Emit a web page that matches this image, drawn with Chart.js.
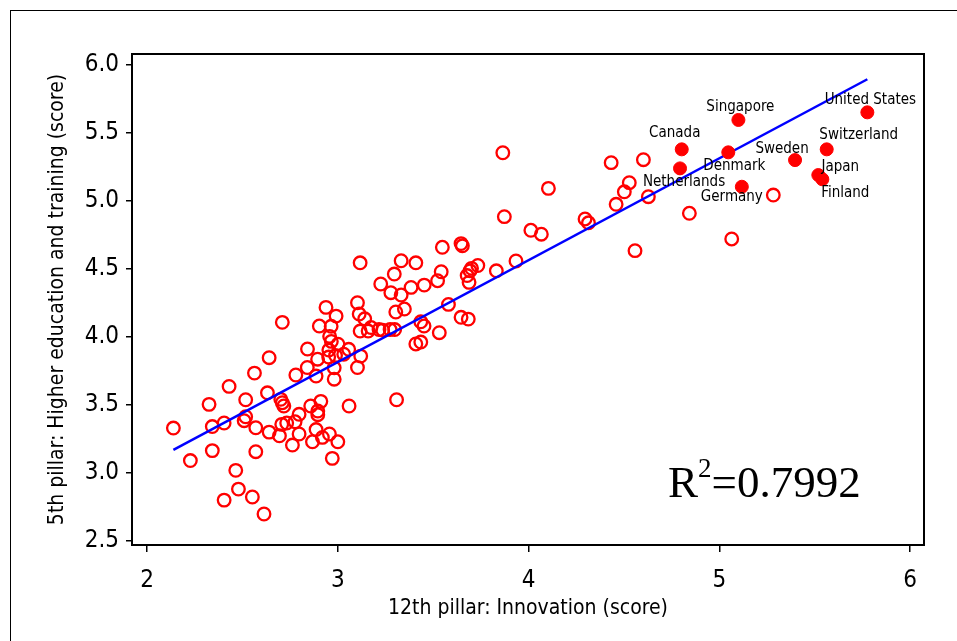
<!DOCTYPE html>
<html lang="en">
<head>
  <meta charset="UTF-8">
  <title>Innovation vs higher education and training</title>
  <style>
    html, body { margin: 0; padding: 0; background: #fff; }
  </style>
</head>
<body>
  <canvas id="canvas" width="957" height="641"></canvas>
  <script src="https://cdn.jsdelivr.net/npm/chart.js"></script>
  <script>
    // all other countries (open circles)
    const otherX = [2.138, 2.227, 2.342, 2.342, 2.325, 2.404, 2.404, 2.430, 2.465, 2.479,
      2.552, 2.613, 2.517, 2.517, 2.509, 2.570, 2.570, 2.563, 2.640, 2.631,
      2.640, 2.701, 2.709, 2.717, 2.694, 2.706, 2.732, 2.776, 2.797, 2.797,
      2.762, 2.709, 2.780, 2.840, 2.841, 2.858, 2.867, 2.886, 2.886, 2.894,
      2.895, 2.895, 2.911, 2.919, 2.956, 2.971, 3.000, 2.981, 2.981, 3.059,
      2.903, 2.938, 2.991, 2.965, 2.957, 2.966, 3.001, 2.953, 2.952, 2.988,
      3.031, 3.057, 3.120, 3.103, 3.117, 3.103, 3.112, 3.141, 3.117, 3.159,
      3.174, 3.216, 3.235, 3.274, 3.298, 3.225, 3.278, 3.296, 3.304, 3.308,
      3.332, 3.332, 3.349, 3.384, 3.409, 3.409, 3.435, 3.435, 3.452, 3.453,
      3.523, 3.542, 3.532, 3.548, 3.580, 3.646, 3.653, 3.646, 3.684, 3.678,
      3.693, 3.701, 3.734, 3.688, 3.831, 3.873, 3.865, 3.934, 4.012, 4.067,
      4.104, 4.296, 4.314, 4.433, 4.459, 4.502, 4.528, 4.558, 4.602, 4.628,
      4.843, 5.065, 5.283];
    const otherY = [3.331, 3.092, 3.165, 3.342, 3.505, 3.368, 2.801, 3.637, 3.020, 2.882,
      2.824, 2.699, 3.539, 3.414, 3.385, 3.333, 3.157, 3.735, 3.848, 3.590,
      3.301, 3.542, 3.517, 3.493, 3.274, 3.358, 3.368, 3.377, 3.432, 3.287,
      3.206, 4.108, 3.721, 3.776, 3.912, 3.493, 3.230, 3.713, 3.320, 3.837,
      3.456, 3.429, 3.527, 3.262, 3.287, 3.108, 3.230, 3.774, 3.690, 3.493,
      4.081, 4.218, 4.154, 4.079, 4.005, 3.968, 3.947, 3.904, 3.853, 3.864,
      3.874, 3.910, 3.860, 3.776, 4.546, 4.252, 4.169, 4.134, 4.044, 4.044,
      4.070, 4.055, 4.051, 4.055, 4.055, 4.390, 4.326, 4.463, 4.184, 3.539,
      4.561, 4.309, 4.206, 4.365, 4.546, 3.949, 3.963, 4.112, 4.081, 4.382,
      4.414, 4.480, 4.032, 4.660, 4.240, 4.687, 4.671, 4.145, 4.132, 4.452,
      4.487, 4.505, 4.526, 4.402, 4.487, 4.885, 5.355, 4.559, 4.785, 4.756,
      5.093, 4.868, 4.840, 5.282, 4.976, 5.068, 5.135, 4.635, 5.304, 5.032,
      4.910, 4.721, 5.044];

    // highlighted countries (filled dots)
    const countries = ['United States', 'Singapore', 'Canada', 'Switzerland', 'Denmark',
      'Sweden', 'Netherlands', 'Japan', 'Finland', 'Germany'];
    const countryX = [5.776, 5.100, 4.803, 5.563, 5.047, 5.397, 4.794, 5.519, 5.540, 5.118];
    const countryY = [5.652, 5.596, 5.380, 5.380, 5.358, 5.301, 5.240, 5.191, 5.160, 5.105];

    const xTicks = [2, 3, 4, 5, 6];
    const yTicks = [2.5, 3.0, 3.5, 4.0, 4.5, 5.0, 5.5, 6.0];

    // fitted line y = a + b*x
    const fitIntercept = 1.569;
    const fitSlope = 0.749;
    const rSquared = '0.7992';

    // where each country name sits, relative to its dot (px)
    const labelOffset = {
      'United States': [3, -12], 'Singapore': [2, -13], 'Canada': [-7, -16],
      'Switzerland': [32, -14], 'Denmark': [6, 14], 'Sweden': [-13, -11],
      'Netherlands': [4, 14], 'Japan': [22, -8], 'Finland': [23, 14], 'Germany': [-10, 10]
    };

    const SANS = '"DejaVu Sans Condensed", "DejaVu Sans", sans-serif';

    const allX = otherX.concat(countryX);
    const xLo = Math.min(...allX), xHi = Math.max(...allX);
    const fitLine = [
      { x: xLo, y: fitIntercept + fitSlope * xLo },
      { x: xHi, y: fitIntercept + fitSlope * xHi }
    ];

    const decorations = {
      id: 'decorations',
      beforeDraw(chart) {
        const ctx = chart.ctx;
        ctx.save();
        ctx.fillStyle = '#fff';
        ctx.fillRect(0, 0, chart.width, chart.height);
        ctx.strokeStyle = '#000';
        ctx.lineWidth = 1;
        ctx.strokeRect(10.5, 10.5, chart.width + 10, chart.height + 10);
        ctx.restore();
      },
      afterDatasetsDraw(chart) {
        const { ctx, chartArea: a, scales: { x, y } } = chart;
        ctx.save();
        ctx.fillStyle = '#000';
        ctx.font = '15px ' + SANS;
        ctx.textAlign = 'center';
        ctx.textBaseline = 'middle';
        countries.forEach((c, i) => {
          const [dx, dy] = labelOffset[c];
          ctx.fillText(c, x.getPixelForValue(countryX[i]) + dx, y.getPixelForValue(countryY[i]) + dy);
        });

        // R^2 note
        ctx.textAlign = 'left';
        ctx.textBaseline = 'alphabetic';
        let tx = a.left + 536;
        const base = a.bottom - 48;
        ctx.font = '45px "Liberation Serif", "Times New Roman", serif';
        ctx.fillText('R', tx, base);
        tx += ctx.measureText('R').width;
        ctx.font = '27px "Liberation Serif", "Times New Roman", serif';
        ctx.fillText('2', tx, base - 20);
        tx += ctx.measureText('2').width;
        ctx.font = '45px "Liberation Serif", "Times New Roman", serif';
        ctx.fillText('=' + rSquared, tx, base);

        // plot frame
        ctx.strokeStyle = '#000';
        ctx.lineWidth = 2;
        ctx.strokeRect(a.left, a.top, a.right - a.left, a.bottom - a.top);
        ctx.restore();
      }
    };

    const canvas = document.getElementById('canvas');
    new Chart(canvas, {
      type: 'scatter',
      data: {
        datasets: [
          {
            label: 'highlighted',
            data: countryX.map((v, i) => ({ x: v, y: countryY[i] })),
            backgroundColor: '#ff0000',
            borderColor: '#ff0000',
            borderWidth: 1,
            pointRadius: 6.5,
            order: 0
          },
          {
            label: 'fit',
            type: 'line',
            data: fitLine,
            borderColor: '#0000ff',
            borderWidth: 2.5,
            pointRadius: 0,
            fill: false,
            order: 1
          },
          {
            label: 'others',
            data: otherX.map((v, i) => ({ x: v, y: otherY[i] })),
            backgroundColor: 'rgba(0,0,0,0)',
            borderColor: '#ff0000',
            borderWidth: 2.3,
            pointRadius: 6.3,
            order: 2
          }
        ]
      },
      options: {
        responsive: false,
        animation: false,
        layout: { padding: { top: 54, right: 33, left: 0, bottom: 0 } },
        plugins: { legend: { display: false }, tooltip: { enabled: false } },
        scales: {
          x: {
            type: 'linear',
            bounds: 'data',
            min: 1.921,
            max: 6.073,
            afterBuildTicks: s => { s.ticks = xTicks.map(v => ({ value: v })); },
            afterFit: s => { s.height = 96; },
            grid: { drawOnChartArea: false, drawTicks: true, tickLength: 7, color: '#000', lineWidth: 1.5 },
            border: { display: true, color: '#000', width: 2 },
            ticks: { color: '#000', padding: 14, font: { family: SANS, size: 24 }, callback: v => String(v) },
            title: {
              display: true, text: '12th pillar: Innovation (score)', color: '#000',
              font: { family: SANS, size: 21 }, padding: { top: 0, bottom: 20 }
            }
          },
          y: {
            type: 'linear',
            bounds: 'data',
            min: 2.471,
            max: 6.081,
            afterBuildTicks: s => { s.ticks = yTicks.map(v => ({ value: v })); },
            afterFit: s => { s.width = 132; },
            grid: { drawOnChartArea: false, drawTicks: true, tickLength: 6, color: '#000', lineWidth: 1.5 },
            border: { display: true, color: '#000', width: 2 },
            ticks: { color: '#000', padding: 7, font: { family: SANS, size: 24 }, callback: v => v.toFixed(1) },
            title: {
              display: true, text: '5th pillar: Higher education and training (score)', color: '#000',
              font: { family: SANS, size: 21 }, padding: { top: 45, bottom: 0 }
            }
          }
        }
      },
      plugins: [decorations]
    });
  </script>
</body>
</html>
